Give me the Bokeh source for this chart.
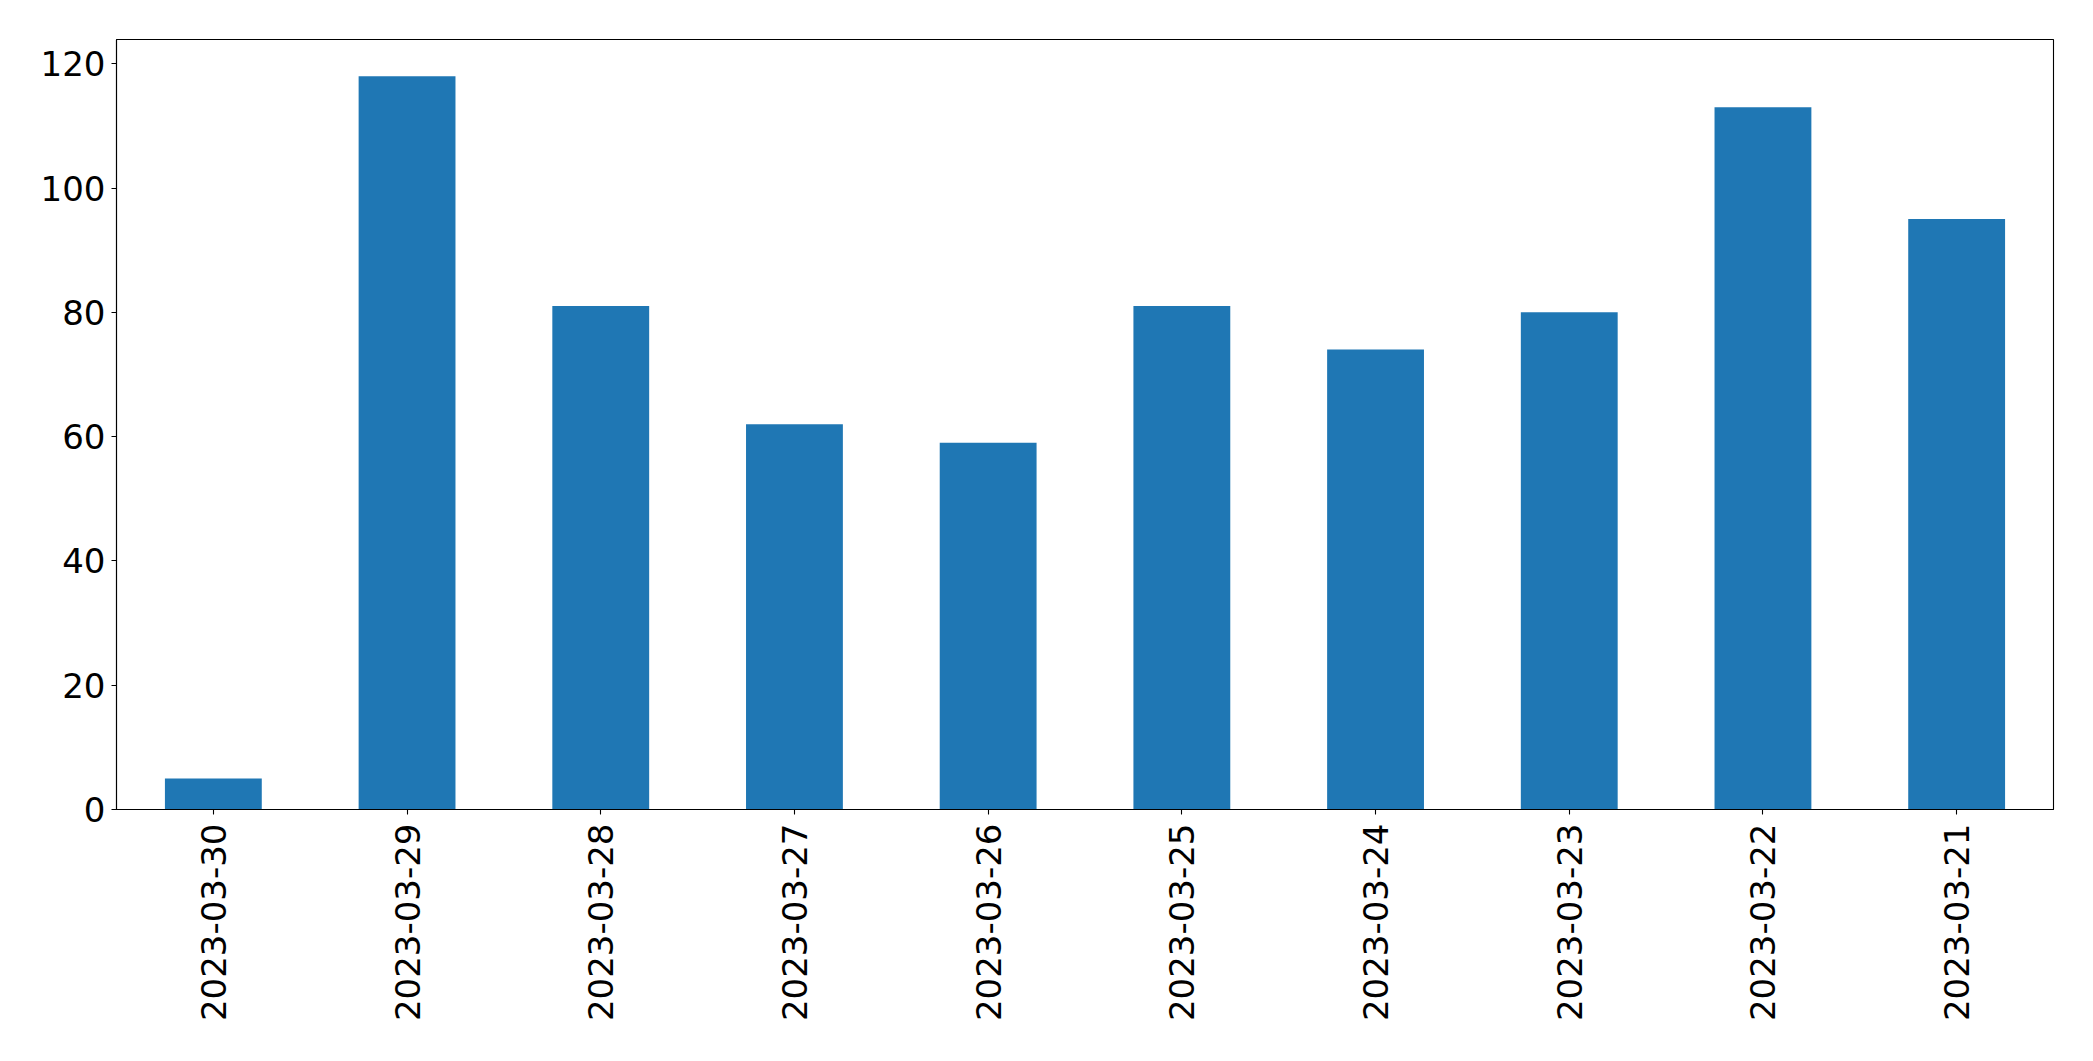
import math
from bokeh.plotting import figure
from bokeh.models import FactorRange, Range1d, SingleIntervalTicker, ColumnDataSource
from bokeh.embed import file_html
from bokeh.resources import INLINE

dates = ["2023-03-30", "2023-03-29", "2023-03-28", "2023-03-27", "2023-03-26",
         "2023-03-25", "2023-03-24", "2023-03-23", "2023-03-22", "2023-03-21"]
counts = [5, 118, 81, 62, 59, 81, 74, 80, 113, 95]

source = ColumnDataSource(data=dict(dates=dates, counts=counts))

p = figure(
    x_range=FactorRange(factors=dates, range_padding=0),
    y_range=Range1d(0, max(counts) * 1.05),
    width=2085, height=1045,
    output_backend="svg", toolbar_location=None,
    min_border_left=116, min_border_right=32, min_border_top=39, min_border_bottom=236,
)

p.vbar(x="dates", top="counts", width=0.5, source=source,
       fill_color="#1f77b4", line_color=None)

p.xgrid.visible = False
p.ygrid.visible = False
p.outline_line_color = "black"
p.outline_line_width = 1.1
p.outline_line_alpha = 1.0
p.background_fill_color = "white"
p.border_fill_color = "white"

p.yaxis.ticker = SingleIntervalTicker(interval=20)
for ax in (p.xaxis, p.yaxis):
    ax.axis_line_color = "black"
    ax.axis_line_width = 1.1
    ax.major_tick_line_color = "black"
    ax.major_tick_line_width = 1.1
    ax.major_tick_out = 5
    ax.major_tick_in = 0
    ax.minor_tick_line_color = None
    ax.major_label_text_font = "DejaVu Sans"
    ax.major_label_text_font_size = "34px"
    ax.major_label_text_color = "black"

p.yaxis.major_label_standoff = 6
p.xaxis.major_label_standoff = 9
p.xaxis.major_label_orientation = math.pi / 2

open("out.html", "w").write(file_html(p, INLINE))
